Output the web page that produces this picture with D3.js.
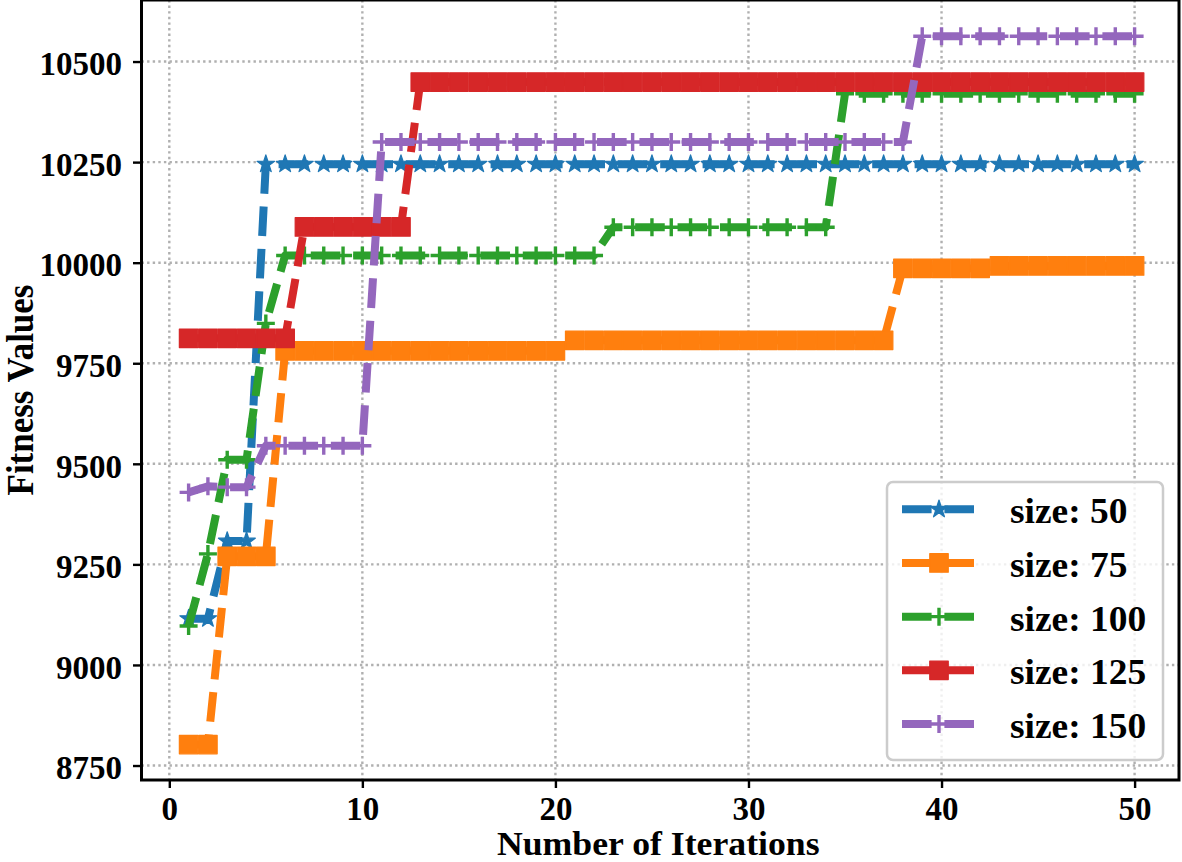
<!DOCTYPE html>
<html><head><meta charset="utf-8">
<script src="https://cdn.jsdelivr.net/npm/d3@7"></script>
<style>html,body{margin:0;padding:0;background:#fff;} svg{display:block;}</style>
</head><body>
<svg id="chart" width="1182" height="862"></svg>
<script>
// ---------------- data ----------------
const iterations = [1,2,3,4,5,6,7,8,9,10,11,12,13,14,15,16,17,18,19,20,21,22,23,24,25,26,27,28,29,30,31,32,33,34,35,36,37,38,39,40,41,42,43,44,45,46,47,48,49,50];
const size50  = [9115,9115,9308,9308,10245,10245,10245,10245,10245,10245,10245,10245,10245,10245,10245,10245,10245,10245,10245,10245,10245,10245,10245,10245,10245,10245,10245,10245,10245,10245,10245,10245,10245,10245,10245,10245,10245,10245,10245,10245,10245,10245,10245,10245,10245,10245,10245,10245,10245,10245];
const size75  = [8802,8802,9270,9270,9270,9781,9781,9781,9781,9781,9781,9781,9781,9781,9781,9781,9781,9781,9781,9781,9807,9807,9807,9807,9807,9807,9807,9807,9807,9807,9807,9807,9807,9807,9807,9807,9807,9986,9986,9986,9986,9986,9992,9992,9992,9992,9992,9992,9992,9992];
const size100 = [9097,9276,9510,9510,9849,10018,10018,10018,10018,10018,10018,10018,10018,10018,10018,10018,10018,10018,10018,10018,10018,10018,10088,10088,10088,10088,10088,10088,10088,10088,10088,10088,10088,10088,10420,10420,10420,10420,10420,10420,10420,10420,10420,10420,10420,10420,10420,10420,10420,10420];
const size125 = [9812,9812,9812,9812,9812,9812,10089,10089,10089,10089,10089,10089,10449,10449,10449,10449,10449,10449,10449,10449,10449,10449,10449,10449,10449,10449,10449,10449,10449,10449,10449,10449,10449,10449,10449,10449,10449,10449,10449,10449,10449,10449,10449,10449,10449,10449,10449,10449,10449,10449];
const size150 = [9429,9444,9442,9442,9545,9545,9545,9545,9545,9545,10300,10300,10300,10300,10300,10300,10300,10300,10300,10300,10300,10300,10300,10300,10300,10300,10300,10300,10300,10300,10300,10300,10300,10300,10300,10300,10300,10300,10563,10563,10563,10563,10563,10563,10563,10563,10563,10563,10563,10563];

const seriesNames   = ["size: 50","size: 75","size: 100","size: 125","size: 150"];
const seriesValues  = [size50,size75,size100,size125,size150];
const seriesColors  = ["#1f77b4","#ff7f0e","#2ca02c","#d62728","#9467bd"];
const seriesMarkers = ["star","square","plus","square","plus"];

const xTicks = [0,10,20,30,40,50];
const yTicks = [8750,9000,9250,9500,9750,10000,10250,10500];
const xLabel = "Number of Iterations";
const yLabel = "Fitness Values";

// ---------------- layout ----------------
const FONT = "'Liberation Serif','Times New Roman',Times,serif";
const SX = 1.05;
const pL = 141.5, pR = 1179, pT = 0, pB = 780;

const svg = d3.select("#chart");
const x = d3.scaleLinear().domain([-1.44, 52.3]).range([pL, pR]);
const y = d3.scaleLinear().domain([8714, 10653]).range([pB, pT]);

// grid
const grid = svg.append("g").attr("stroke","#b0b0b0").attr("stroke-width",2.4)
  .attr("stroke-dasharray","2.4,3.2").attr("fill","none");
grid.selectAll("line.gx").data(xTicks).join("line").attr("class","gx")
  .attr("x1",d=>x(d)).attr("x2",d=>x(d)).attr("y1",pT).attr("y2",pB);
grid.selectAll("line.gy").data(yTicks).join("line").attr("class","gy")
  .attr("x1",pL).attr("x2",pR).attr("y1",d=>y(d)).attr("y2",d=>y(d));

function markerPath(type){
  if(type==="star") return d3.symbol(d3.symbolStar, 96)();
  if(type==="square") return d3.symbol(d3.symbolSquare, 18.5*18.5)();
  return "M-9,0H9M0,-9V9";
}
function styleMarker(sel, type, color){
  if(type==="plus"){
    sel.attr("fill","none").attr("stroke",color).attr("stroke-width",3.4);
  } else {
    sel.attr("fill",color).attr("stroke",color).attr("stroke-width",1.2).attr("stroke-linejoin","round");
  }
}

svg.append("clipPath").attr("id","plotclip").append("rect")
  .attr("x",pL).attr("y",pT).attr("width",pR-pL).attr("height",pB-pT);

const plot = svg.append("g").attr("clip-path","url(#plotclip)");
const line = d3.line().x((d,i)=>x(iterations[i])).y(d=>y(d));

seriesValues.forEach((vals, k)=>{
  const color = seriesColors[k];
  const g = plot.append("g");
  g.append("path").attr("d", line(vals))
    .attr("fill","none").attr("stroke",color).attr("stroke-width",8)
    .attr("stroke-dasharray","29.6,12.8").attr("stroke-linejoin","round").attr("stroke-linecap","butt");
  const m = g.selectAll("path.m").data(vals).join("path").attr("class","m")
    .attr("d", markerPath(seriesMarkers[k]))
    .attr("transform",(d,i)=>`translate(${x(iterations[i])},${y(d)})`);
  styleMarker(m, seriesMarkers[k], color);
});

// axes
const xAxis = svg.append("g").attr("transform",`translate(0,${pB})`)
  .call(d3.axisBottom(x).tickValues(xTicks).tickSize(8).tickPadding(9).tickFormat(d3.format("d")));
const yAxis = svg.append("g").attr("transform",`translate(${pL},0)`)
  .call(d3.axisLeft(y).tickValues(yTicks).tickSize(8.5).tickPadding(11).tickFormat(d3.format("d")));
[xAxis,yAxis].forEach(a=>{
  a.select(".domain").remove();
  a.selectAll(".tick line").attr("stroke","#000").attr("stroke-width",2.4);
  a.selectAll(".tick text").attr("fill","#000").style("font-family",FONT)
    .style("font-weight","bold").style("font-size","33px");
});
xAxis.selectAll(".tick text").attr("dy","0.71em");
yAxis.selectAll(".tick text").attr("dy","0.40em");

// frame
svg.append("rect").attr("x",pL).attr("y",pT).attr("width",pR-pL).attr("height",pB-pT)
  .attr("fill","none").attr("stroke","#000").attr("stroke-width",3);

// axis labels
svg.append("g").attr("transform",`translate(${(pL+pR)/2 - 2},854.5) scale(${SX},1)`)
  .append("text").attr("text-anchor","middle").style("font-family",FONT).style("font-weight","bold")
  .style("font-size","34px").attr("fill","#000").text(xLabel);
svg.append("g").attr("transform",`translate(33,${(pT+pB)/2}) scale(1.07,1) rotate(-90)`)
  .append("text").attr("text-anchor","middle").style("font-family",FONT).style("font-weight","bold")
  .style("font-size","35px").attr("fill","#000").text(yLabel);

// legend
const lg = svg.append("g");
lg.append("rect").attr("x",887).attr("y",482).attr("width",276).attr("height",278).attr("rx",6)
  .attr("fill","#fff").attr("fill-opacity",0.8).attr("stroke","#cccccc").attr("stroke-width",2.5);
const rowY = d3.scaleLinear().domain([0,4]).range([509.3,724]);
seriesNames.forEach((name,k)=>{
  const yy = rowY(k), color = seriesColors[k];
  lg.append("path").attr("d",`M902,${yy}H976`).attr("stroke",color).attr("stroke-width",8)
    .attr("stroke-dasharray","29.6,12.8").attr("fill","none");
  const m = lg.append("path").attr("d",markerPath(seriesMarkers[k])).attr("transform",`translate(939,${yy})`);
  styleMarker(m, seriesMarkers[k], color);
  lg.append("g").attr("transform",`translate(1010,${yy+14}) scale(1.07,1)`)
    .append("text").style("font-family",FONT).style("font-weight","bold").style("font-size","35px")
    .attr("fill","#000").text(name);
});
</script>
</body></html>
